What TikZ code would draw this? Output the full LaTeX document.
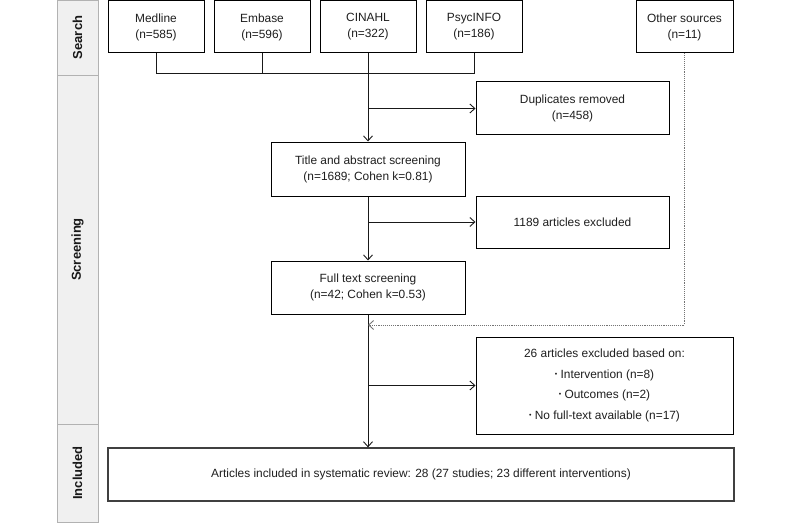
\documentclass[tikz,border=0pt]{standalone}
\usepackage{fontspec}
\setmainfont{Liberation Sans}
\usetikzlibrary{arrows.meta}
\newcommand{\smallbul}{\raisebox{0.35ex}{\fontsize{7pt}{7pt}\selectfont\textbullet}\ }
\tikzset{
  box/.style={draw=black, line width=1pt, fill=white, align=center, inner sep=0pt,
    font=\fontsize{11.9pt}{16pt}\selectfont, text=black!88},
  flow/.style={line width=0.9pt, draw=black!90, -{Straight Barb[length=5pt,width=9pt]}},
  plain/.style={line width=0.9pt, draw=black!90},
  dots/.style={line width=0.9pt, draw=black!55, densely dotted, -{Straight Barb[length=5pt,width=9pt]}},
  band/.style={draw=black!30, fill=black!6, line width=0.8pt},
  bandlabel/.style={rotate=90, font=\bfseries\fontsize{13pt}{13pt}\selectfont, text=black!90},
}
\begin{document}
\begin{tikzpicture}[x=1pt,y=-1pt]
\useasboundingbox (0,0) rectangle (800,524);
% phase strip
\draw[band] (57,0) rectangle (98,75);
\draw[band] (57,75) rectangle (98,424);
\draw[band] (57,424) rectangle (98,522);
\node[bandlabel] (lsearch) at (77.5,37.5) {Search};
\node[bandlabel] (lscreen) at (77.5,249.5) {Screening};
\node[bandlabel] (lincl) at (77.5,473) {Included};
% search boxes
\node[box, minimum width=96pt, minimum height=52pt] (medline) at (156,27) {Medline\\(n=585)};
\node[box, minimum width=96pt, minimum height=52pt] (embase) at (262,27) {Embase\\(n=596)};
\node[box, minimum width=96pt, minimum height=52pt] (cinahl) at (368,27) {CINAHL\\(n=322)};
\node[box, minimum width=96pt, minimum height=52pt] (psyc) at (474,27) {PsycINFO\\(n=186)};
\node[box, minimum width=97pt, minimum height=52pt] (other) at (684.5,27) {Other sources\\(n=11)};
% screening
\node[box, minimum width=193pt, minimum height=53pt] (dup) at (572.5,108.5) {Duplicates removed\\(n=458)};
\node[box, minimum width=194pt, minimum height=54pt] (title) at (368,169) {Title and abstract screening\\(n=1689; Cohen k=0.81)};
\node[box, minimum width=193pt, minimum height=52pt] (excl1) at (572.5,222) {1189 articles excluded};
\node[box, minimum width=194pt, minimum height=53pt] (full) at (368,287.5) {Full text screening\\(n=42; Cohen k=0.53)};
\node[box, minimum width=257pt, minimum height=97pt, font=\fontsize{11.9pt}{20.5pt}\selectfont] (excl2) at (604.5,385.5)
  {26 articles excluded based on:\\\smallbul Intervention (n=8)\\\smallbul Outcomes (n=2)\\\smallbul No full-text available (n=17)};
% included
\node[box, draw=black!75, line width=1.3pt, minimum width=626pt, minimum height=53pt] (art) at (421,474.5)
  {Articles included in systematic review: 28 (27 studies; 23 different interventions)};
% connectors
\coordinate (bl) at (156,73);
\coordinate (dotturn) at (684.5,325);
\coordinate (dotend) at (368,325);
\draw[plain] (medline.south) -- (medline.south |- bl) -- (psyc.south |- bl) -- (psyc.south);
\draw[plain] (embase.south) -- (embase.south |- bl);
\draw[flow] (cinahl.south) -- (title.north);
\draw[flow] (cinahl.south |- dup.west) -- (dup.west);
\draw[flow] (title.south) -- (full.north);
\draw[flow] (title.south |- excl1.west) -- (excl1.west);
\draw[flow] (full.south) -- (full.south |- art.north);
\draw[flow] (full.south |- excl2.west) -- (excl2.west);
\draw[dots] (other.south) -- (dotturn) -- (dotend);
\end{tikzpicture}
\end{document}
